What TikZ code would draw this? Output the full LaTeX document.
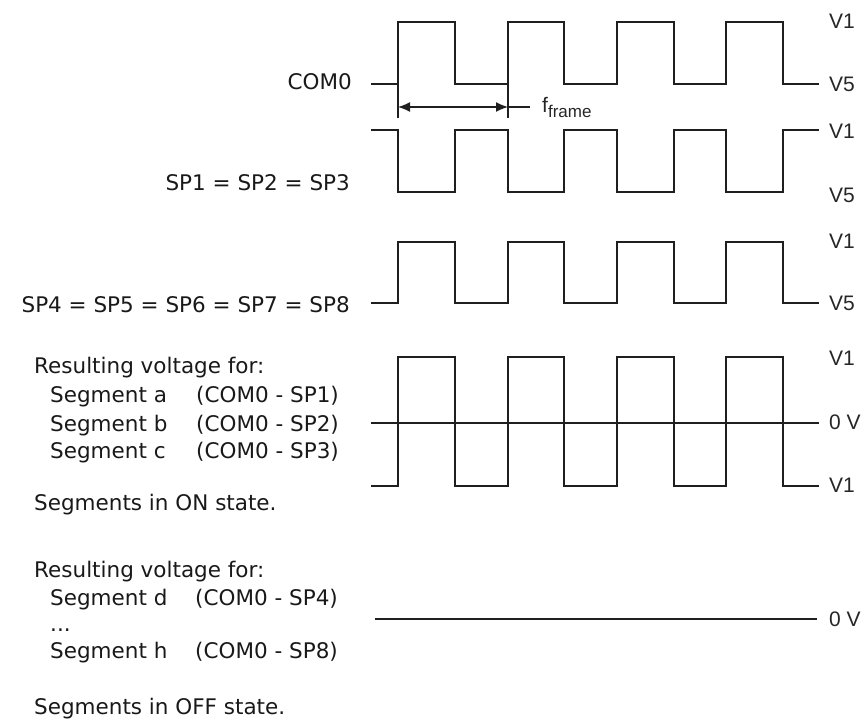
\documentclass[tikz,border=0pt]{standalone}
\usepackage{fontspec}
\setmainfont{DejaVu Sans}
\newfontfamily\arialf{Liberation Sans}
\usetikzlibrary{arrows.meta}
\begin{document}
\begin{tikzpicture}[x=1pt,y=-1pt,
  wave/.style={line width=1.4pt, line join=miter, draw=black!88},
  lbl/.style={font=\fontsize{21.5}{21.5}\selectfont, inner sep=0pt, text=black!90},
  vlbl/.style={font=\arialf\fontsize{21}{21}\selectfont, inner sep=0pt, anchor=base west, text=black!85},
  dimarrow/.style={wave, {Latex[length=12pt,width=10pt]}-{Latex[length=12pt,width=10pt]}}]
\useasboundingbox (0,0) rectangle (865,721);

% COM0 waveform (high 22, low 84)
\draw[wave] (371,84) -- (398,84) -- (398,22) -- (455,22) -- (455,84) -- (508,84) -- (508,22) -- (564,22) -- (564,84) -- (617,84) -- (617,22) -- (674,22) -- (674,84) -- (726,84) -- (726,22) -- (783,22) -- (783,84) -- (819,84);
% frame period marker
\coordinate (ta) at (398,84);
\coordinate (tb) at (508,84);
\coordinate (ta2) at (398,118);
\coordinate (tb2) at (508,118);
\coordinate (aa) at (398,107);
\coordinate (ab) at (508,107);
\coordinate (ac) at (530,107);
\draw[wave] (ta) -- (ta2);
\draw[wave] (tb) -- (tb2);
\draw[dimarrow] (aa) -- (ab);
\draw[wave] (ab) -- (ac);
\node[font=\arialf\fontsize{21}{21}\selectfont, inner sep=0pt, anchor=base west, text=black!85] (ff) at (542,112) {f\raisebox{-5pt}{\fontsize{17}{17}\selectfont frame}};

% SP1 waveform (high 130, low 192)
\draw[wave] (371,130) -- (398,130) -- (398,192) -- (455,192) -- (455,130) -- (508,130) -- (508,192) -- (564,192) -- (564,130) -- (617,130) -- (617,192) -- (674,192) -- (674,130) -- (726,130) -- (726,192) -- (783,192) -- (783,130) -- (819,130);

% SP4 waveform (high 242, low 303)
\draw[wave] (371,303) -- (398,303) -- (398,242) -- (455,242) -- (455,303) -- (508,303) -- (508,242) -- (564,242) -- (564,303) -- (617,303) -- (617,242) -- (674,242) -- (674,303) -- (726,303) -- (726,242) -- (783,242) -- (783,303) -- (819,303);

% Resulting ON waveform (high 357, zero 423, low 486)
\draw[wave] (371,423) -- (819,423);
\draw[wave] (371,486) -- (398,486) -- (398,357) -- (455,357) -- (455,486) -- (508,486) -- (508,357) -- (564,357) -- (564,486) -- (617,486) -- (617,357) -- (674,357) -- (674,486) -- (726,486) -- (726,357) -- (783,357) -- (783,486) -- (819,486);

% OFF line
\draw[wave] (375,619) -- (817,619);

% left labels
\node[lbl, anchor=base east] (com) at (352,89) {COM0};
\node[lbl, anchor=base east] (sp1) at (350,190) {SP1 = SP2 = SP3};
\node[lbl, anchor=base east] (sp4) at (350,312) {SP4 = SP5 = SP6 = SP7 = SP8};

\node[lbl, anchor=base west] (r1) at (34,373) {Resulting voltage for:};
\node[lbl, anchor=base west] (sa) at (50,402) {Segment a};
\node[lbl, anchor=base west] (sap) at (196,402) {(COM0 - SP1)};
\node[lbl, anchor=base west] (sb) at (50,431) {Segment b};
\node[lbl, anchor=base west] (sbp) at (196,431) {(COM0 - SP2)};
\node[lbl, anchor=base west] (sc) at (50,458) {Segment c};
\node[lbl, anchor=base west] (scp) at (196,458) {(COM0 - SP3)};
\node[lbl, anchor=base west] (on) at (34,510) {Segments in ON state.};

\node[lbl, anchor=base west] (r2) at (34,577) {Resulting voltage for:};
\node[lbl, anchor=base west] (sd) at (50,605) {Segment d};
\node[lbl, anchor=base west] (sdp) at (195,605) {(COM0 - SP4)};
\node[lbl, anchor=base west] (dots) at (50,631) {...};
\node[lbl, anchor=base west] (sh) at (50,658) {Segment h};
\node[lbl, anchor=base west] (shp) at (195,658) {(COM0 - SP8)};
\node[lbl, anchor=base west] (off) at (34,714) {Segments in OFF state.};

% right level labels
\node[vlbl] (v1a) at (829,28) {V1};
\node[vlbl] (v5a) at (829,91) {V5};
\node[vlbl] (v1b) at (829,138) {V1};
\node[vlbl] (v5b) at (829,202) {V5};
\node[vlbl] (v1c) at (829,248) {V1};
\node[vlbl] (v5c) at (829,310) {V5};
\node[vlbl] (v1d) at (829,365) {V1};
\node[vlbl] (z1) at (829,429) {0 V};
\node[vlbl] (v1e) at (829,492) {V1};
\node[vlbl] (z2) at (829,626) {0 V};
\end{tikzpicture}
\end{document}
